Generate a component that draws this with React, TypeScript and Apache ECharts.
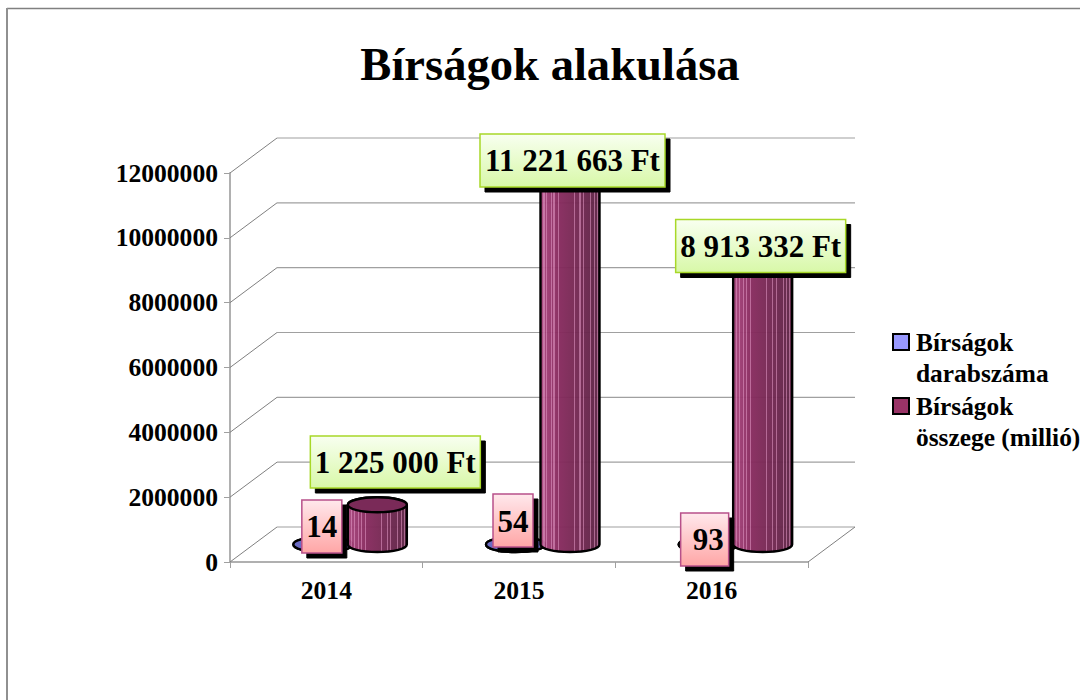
import React, { useEffect, useRef } from "react";
import * as echarts from "echarts";

const title = "Bírságok alakulása";
const years = ["2014", "2015", "2016"];
const seriesCountName = "Bírságok\ndarabszáma";
const seriesSumName = "Bírságok\nösszege (millió)";
const fineCounts = [14, 54, 93];
const fineSums = [1225000, 11221663, 8913332];
const countLabels = ["14", "54", "93"];
const sumLabels = ["1 225 000 Ft", "11 221 663 Ft", "8 913 332 Ft"];
const yTicks = [0, 2000000, 4000000, 6000000, 8000000, 10000000, 12000000];

const FONT = '"Liberation Serif", "Times New Roman", serif';
const DEPTH_X = 47;
const DEPTH_Y = 35;
const RX = 29.5;
const RY = 7.5;

// Label box placement, relative to the category centre on the zero line
const countBoxes = [
  { dx: -24.5, dy: -62, w: 40, h: 53, tx: 0, ty: 0 },
  { dx: -26, dy: -68, w: 40, h: 53, tx: 0, ty: 1 },
  { dx: -31, dy: -49, w: 48, h: 53, tx: 3.5, ty: 0 },
];
const sumBoxes = [
  { dx: -16, dy: -126, w: 170, h: 52, tx: 0, ty: 0 },
  { dx: -39, dy: -428, w: 185, h: 53, tx: 0, ty: 0 },
  { dx: -36, dy: -342.5, w: 170, h: 53, tx: 0, ty: 0 },
];

function mix(a: number[], b: number[], t: number) {
  const c = a.map((v, i) => Math.round(v + (b[i] - v) * t));
  return `rgb(${c[0]},${c[1]},${c[2]})`;
}

function stripedFill() {
  const ramp = (t: number): number[] => {
    const L = [170, 72, 128];
    const M = [136, 42, 94];
    const R = [92, 36, 68];
    const s = t < 0.3 ? t / 0.3 : (t - 0.3) / 0.7;
    const [A, B] = t < 0.3 ? [L, M] : [M, R];
    return A.map((v, i) => v + (B[i] - v) * s);
  };
  const stripes = [0.05, 0.1, 0.17, 0.22, 0.29, 0.56, 0.66, 0.72, 0.84, 0.9, 0.95];
  const stops: { offset: number; color: string }[] = [];
  const W = 0.018;
  let last = 0;
  stripes.forEach((p) => {
    stops.push({ offset: last, color: mix(ramp(last), ramp(last), 0) });
    stops.push({ offset: p, color: mix(ramp(p), ramp(p), 0) });
    stops.push({ offset: p, color: mix(ramp(p), [226, 150, 196], 0.55) });
    stops.push({ offset: p + W, color: mix(ramp(p), [226, 150, 196], 0.55) });
    last = p + W;
  });
  stops.push({ offset: last, color: mix(ramp(last), ramp(last), 0) });
  stops.push({ offset: 1, color: mix(ramp(1), ramp(1), 0) });
  return { type: "linear", x: 0, y: 0, x2: 1, y2: 0, colorStops: stops };
}

function cylinderRender(offset: number, fill: any, topFill: string) {
  return (_params: any, api: any) => {
    const cx = api.coord([api.value(0), 0])[0] + offset;
    const y0 = api.coord([api.value(0), 0])[1] - DEPTH_Y / 2;
    const h = y0 - (api.coord([api.value(0), api.value(1)])[1] - DEPTH_Y / 2);
    const yt = y0 - h;
    const d =
      `M${cx - RX} ${yt}L${cx - RX} ${y0}A${RX} ${RY} 0 0 0 ${cx + RX} ${y0}` +
      `L${cx + RX} ${yt}A${RX} ${RY} 0 0 0 ${cx - RX} ${yt}Z`;
    return {
      type: "group",
      children: [
        {
          type: "path",
          shape: { pathData: d, x: cx - RX, y: yt - RY, width: RX * 2, height: h + RY * 2 },
          style: { fill, stroke: "#000", lineWidth: 2.4, fillOpacity: 0.96 },
        },
        {
          type: "ellipse",
          shape: { cx, cy: yt, rx: RX, ry: RY },
          style: { fill: topFill, stroke: "#000", lineWidth: 2.4 },
        },
      ],
    };
  };
}

function labelRender(texts: string[], boxes: any[], border: string, c1: string, c2: string) {
  return (params: any, api: any) => {
    const b = boxes[params.dataIndex];
    const [ax, ay] = api.coord([api.value(0), 0]);
    const x = ax + b.dx;
    const y = ay + b.dy;
    return {
      type: "group",
      children: [
        { type: "rect", shape: { x: x + 5, y: y + 5, width: b.w, height: b.h }, style: { fill: "#000", stroke: "#000", lineWidth: 1 } },
        {
          type: "rect",
          shape: { x, y, width: b.w, height: b.h },
          style: {
            stroke: border,
            lineWidth: 1.5,
            fill: { type: "linear", x: 0, y: 0, x2: 0, y2: 1, colorStops: [{ offset: 0, color: c1 }, { offset: 1, color: c2 }] },
          },
        },
        {
          type: "text",
          style: {
            text: texts[params.dataIndex],
            x: x + b.w / 2 + b.tx,
            y: y + b.h / 2 + b.ty,
            align: "center",
            verticalAlign: "middle",
            fill: "#000",
            font: `bold 31px ${FONT}`,
          },
        },
      ],
    };
  };
}

export default function App() {
  const ref = useRef<HTMLDivElement>(null);
  useEffect(() => {
    document.body.style.margin = "0";
    const chart = echarts.init(ref.current!, null, { renderer: "svg" });
    const sumFill = stripedFill();
    chart.setOption({
      animation: false,
      backgroundColor: "#fff",
      title: {
        text: title,
        left: 545,
        top: 35,
        textAlign: "center",
        textStyle: { fontFamily: FONT, fontWeight: "bold", fontSize: 46.6, color: "#000" },
      },
      graphic: [
        { type: "line", shape: { x1: 7, y1: 8.5, x2: 1080, y2: 8.5 }, style: { stroke: "#808080", lineWidth: 1.5 } },
        { type: "line", shape: { x1: 7, y1: 8, x2: 7, y2: 700 }, style: { stroke: "#909090", lineWidth: 2 } },
      ],
      legend: {
        left: 892,
        top: 295.5,
        orient: "vertical",
        icon: "rect",
        itemWidth: 16,
        itemHeight: 16,
        itemGap: -29,
        padding: 0,
        selectedMode: false,
        formatter: (n: string) => "\n" + n,
        textStyle: {
          fontFamily: FONT,
          fontWeight: "bold",
          fontSize: 25.4,
          lineHeight: 31,
          color: "#000",
          padding: [0, 0, 0, 2],
        },
        data: [
          { name: seriesCountName, itemStyle: { color: "#9999FF", borderColor: "#000", borderWidth: 2 } },
          { name: seriesSumName, itemStyle: { color: "#993366", borderColor: "#000", borderWidth: 2 } },
        ],
      },
      grid: { left: 230, top: 173, width: 578, height: 389 },
      xAxis: {
        type: "category",
        data: years,
        boundaryGap: true,
        axisLine: { lineStyle: { color: "#b0b0b0", width: 2 } },
        axisTick: { show: true, length: 6, alignWithLabel: false, lineStyle: { color: "#a0a0a0", width: 1 } },
        axisLabel: { margin: 15, fontFamily: FONT, fontWeight: "bold", fontSize: 25.6, color: "#000" },
      },
      yAxis: {
        type: "value",
        min: 0,
        max: 12000000,
        interval: 2000000,
        axisLine: { show: true, lineStyle: { color: "#b0b0b0", width: 2 } },
        axisTick: { show: true, length: 6, lineStyle: { color: "#a0a0a0", width: 1 } },
        splitLine: { show: false },
        axisLabel: {
          margin: 12,
          formatter: (v: number) => String(v),
          fontFamily: FONT,
          fontWeight: "bold",
          fontSize: 25.6,
          color: "#000",
        },
      },
      series: [
        {
          type: "custom",
          name: "walls",
          z: 1,
          silent: true,
          data: yTicks.map((t) => [0, t]),
          renderItem: (params: any, api: any) => {
            const cs = params.coordSys;
            const y = api.coord([0, api.value(1)])[1];
            const x0 = cs.x;
            const x1 = cs.x + cs.width;
            const children: any[] = [
              { type: "line", shape: { x1: x0, y1: y, x2: x0 + DEPTH_X, y2: y - DEPTH_Y }, style: { stroke: "#808080", lineWidth: 1 } },
              { type: "line", shape: { x1: x0 + DEPTH_X, y1: y - DEPTH_Y, x2: x1 + DEPTH_X, y2: y - DEPTH_Y }, style: { stroke: "#a0a0a0", lineWidth: 1.2 } },
            ];
            if (params.dataIndex === 0) {
              children.push({ type: "line", shape: { x1, y1: y, x2: x1 + DEPTH_X, y2: y - DEPTH_Y }, style: { stroke: "#808080", lineWidth: 1 } });
            }
            return { type: "group", children };
          },
        },
        {
          type: "custom",
          name: seriesCountName,
          z: 2,
          data: fineCounts.map((v, i) => [i, v]),
          renderItem: cylinderRender(-3.5, "#6c6cc4", "#6c6cc4"),
        },
        {
          type: "custom",
          name: seriesSumName,
          z: 3,
          data: fineSums.map((v, i) => [i, v]),
          renderItem: cylinderRender(51, sumFill, "#7a2a58"),
        },
        {
          type: "custom",
          name: "countLabels",
          z: 4,
          data: fineCounts.map((v, i) => [i, v]),
          renderItem: labelRender(countLabels, countBoxes, "#b8508a", "#ffe8ec", "#ffa6a6"),
        },
        {
          type: "custom",
          name: "sumLabels",
          z: 5,
          data: fineSums.map((v, i) => [i, v]),
          renderItem: labelRender(sumLabels, sumBoxes, "#a8d828", "#f8fff0", "#d8f8a8"),
        },
      ],
    });
    return () => chart.dispose();
  }, []);
  return <div ref={ref} style={{ width: 1080, height: 700 }} />;
}
